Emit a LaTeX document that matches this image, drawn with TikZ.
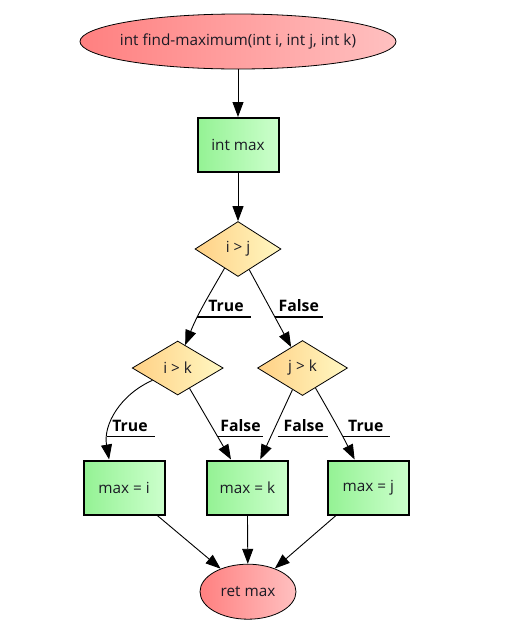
\documentclass[tikz,border=0pt]{standalone}
\usepackage{fontspec}
\setmainfont{Open Sans}
\usetikzlibrary{shapes.geometric,arrows.meta}
\definecolor{ellL}{HTML}{FF8080}
\definecolor{ellR}{HTML}{FFC0C0}
\definecolor{boxL}{HTML}{94F294}
\definecolor{boxR}{HTML}{CCFFCC}
\definecolor{decL}{HTML}{FFD085}
\definecolor{decR}{HTML}{FFF8C2}
\definecolor{txt}{HTML}{1A1A24}
\begin{document}
\begin{tikzpicture}[x=1pt,y=1pt,
  base/.style={inner sep=0pt, font=\fontsize{15.3}{17}\selectfont, text=txt},
  term/.style={base, ellipse, draw, line width=0.8pt, shading=axis, left color=ellL, right color=ellR},
  proc/.style={base, rectangle, draw, line width=2pt, shading=axis, left color=boxL, right color=boxR, minimum width=81pt, minimum height=54pt},
  dec/.style={base, diamond, draw, line width=0.8pt, shading=axis, left color=decL, right color=decR},
  arr/.style={-{Triangle[length=15pt,width=11pt]}, line width=0.9pt},
  lab/.style={font=\bfseries\fontsize{15.8}{18}\selectfont, inner sep=0pt},
  uline/.style={line width=1.5pt}]
\useasboundingbox (0,0) rectangle (508,-641);
% nodes
\node[term, minimum width=316pt, minimum height=55pt] (start) at (238,-41.5) {\makebox[0pt]{int find-maximum(int i, int j, int k)}};
\node[proc] (intmax) at (238,-145) {int max};
\node[dec, minimum width=86pt, minimum height=55pt] (ij) at (238,-249) {i > j};
\node[dec, minimum width=91pt, minimum height=54pt] (ik) at (177.7,-368) {i > k};
\node[dec, minimum width=90pt, minimum height=55pt] (jk) at (302.5,-368) {j > k};
\node[proc] (mi) at (124,-487.5) {max = i};
\node[proc] (mk) at (247.3,-487.5) {max = k};
\node[proc] (mj) at (368.3,-487.5) {max = j};
\node[term, minimum width=96pt, minimum height=55pt] (ret) at (248,-591.7) {\makebox[0pt]{ret max}};
% connectors
\draw[arr] (start) -- (intmax);
\draw[arr] (intmax) -- (ij);
\draw[arr] (ij.235) to[out=240,in=68] (ik.72);
\draw[arr] (ij) -- (jk);
\draw[arr] (ik.206) to[out=204,in=100] (mi.118);
\draw[arr] (ik) -- (mk);
\draw[arr] (jk) -- (mk);
\draw[arr] (jk.303) to[out=300,in=117] (mj.116);
\draw[arr] (mi) -- (ret);
\draw[arr] (mk) -- (ret);
\draw[arr] (mj) -- (ret);
% labels
\node[lab] (l1) at (226,-306) {True};
\draw[uline] (196.7,-317) -- (250.7,-317);
\node[lab] (l2) at (298.8,-306) {False};
\draw[uline] (275,-317) -- (322.7,-317);
\node[lab] (l3) at (130,-425.5) {True};
\draw[uline] (107,-436.7) -- (155,-436.7);
\node[lab] (l4) at (240.5,-425.5) {False};
\draw[uline] (216.7,-436.7) -- (263.3,-436.7);
\node[lab] (l5) at (303.8,-425.5) {False};
\draw[uline] (277.7,-436.7) -- (328.3,-436.7);
\node[lab] (l6) at (365.8,-425.5) {True};
\draw[uline] (343.3,-436.7) -- (390,-436.7);
\end{tikzpicture}
\end{document}
